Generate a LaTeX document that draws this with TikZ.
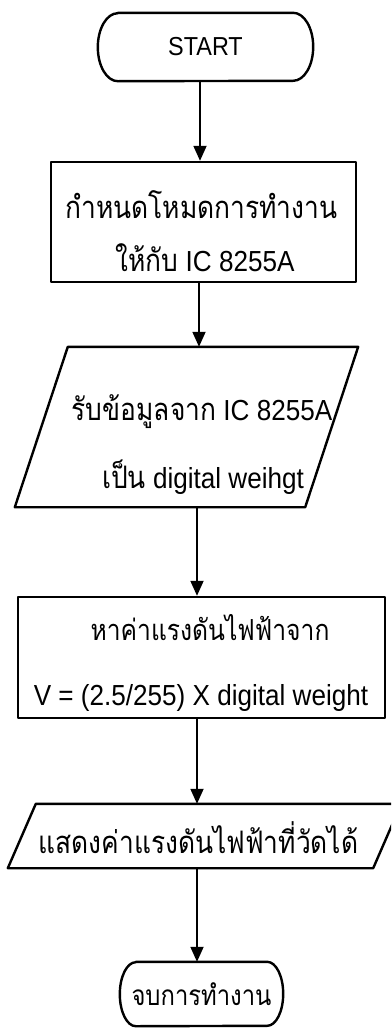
\documentclass[tikz,border=0pt]{standalone}
\usepackage{fontspec}
\setmainfont{Liberation Sans}[FakeStretch=0.9]
\newfontfamily\thai[Script=Thai,FakeStretch=0.85]{Loma}
\newcommand{\thw}[1]{{\fontsize{31}{31}\selectfont\thai #1}}
\usetikzlibrary{arrows.meta}
\tikzset{
  shapeline/.style={line width=2.4pt, line join=round},
  procbox/.style={shapeline, draw, rectangle, inner sep=0pt},
  hold/.style={rectangle, inner sep=0pt},
  txt/.style={align=center, inner sep=0pt, font=\fontsize{29}{29}\selectfont},
  thtxt/.style={align=center, inner sep=0pt, font=\fontsize{31}{31}\selectfont\thai},
  arr/.style={line width=1.8pt, -{Triangle[width=13pt,length=15pt]}},
}
\begin{document}
\begin{tikzpicture}[x=1pt,y=-1pt]
\useasboundingbox (0,0) rectangle (391,1028);
\clip (0,0) rectangle (391,1028);
% START
\node[hold, minimum width=215pt, minimum height=68pt,
      font=\fontsize{26}{26}\selectfont] (s) at (205.5,47) {START};
\draw[shapeline] ([xshift=20pt]s.north west) -- ([xshift=-20pt]s.north east)
  arc[start angle=90, end angle=-90, x radius=20pt, y radius=34pt]
  -- ([xshift=20pt]s.south west)
  arc[start angle=270, end angle=90, x radius=20pt, y radius=34pt] -- cycle;
% box 1
\node[procbox, minimum width=305pt, minimum height=120pt] (b1) at (203.5,222) {};
\node[thtxt] (b1a) at (201.5,205) {กำหนดโหมดการทำงาน};
\node[txt] (b1b) at (205,258) {\thw{ให้กับ} IC 8255A};
% parallelogram 1
\node[hold, minimum width=290pt, minimum height=160pt] (p1) at (186.5,427) {};
\draw[shapeline] ([xshift=26.5pt]p1.north west) -- ([xshift=26.5pt]p1.north east)
  -- ([xshift=-26.5pt]p1.south east) -- ([xshift=-26.5pt]p1.south west) -- cycle;
\node[txt] (p1a) at (202,412) {\thw{รับข้อมูลจาก} IC 8255A};
\node[txt] (p1b) at (203,477) {\thw{เป็น} digital weihgt};
% box 2
\node[procbox, minimum width=367pt, minimum height=121pt] (b2) at (201.5,657.5) {};
\node[thtxt, font=\fontsize{29}{29}\selectfont\thai] (b2a) at (210,628) {หาค่าแรงดันไฟฟ้าจาก};
\node[txt] (b2b) at (201,698) {V = (2.5/255) X digital weight};
% parallelogram 2
\node[hold, minimum width=365pt, minimum height=64pt] (p2) at (204.5,836) {};
\draw[shapeline] ([xshift=14pt]p2.north west) -- ([xshift=14pt]p2.north east)
  -- ([xshift=-14pt]p2.south east) -- ([xshift=-14pt]p2.south west) -- cycle;
\node[thtxt] (p2a) at (198.5,838) {แสดงค่าแรงดันไฟฟ้าที่วัดได้};
% END
\node[hold, minimum width=163pt, minimum height=64pt,
      font=\fontsize{28}{28}\selectfont\thai] (e) at (201.5,994) {จบการทำงาน};
\draw[shapeline] ([xshift=16pt]e.north west) -- ([xshift=-16pt]e.north east)
  arc[start angle=90, end angle=-90, x radius=16pt, y radius=32pt]
  -- ([xshift=16pt]e.south west)
  arc[start angle=270, end angle=90, x radius=16pt, y radius=32pt] -- cycle;
% connectors
\coordinate (x1) at (200,0);
\coordinate (x2) at (199,0);
\coordinate (x3) at (197,0);
\draw[arr] (x1 |- s.south) -- (x1 |- b1.north);
\draw[arr] (x2 |- b1.south) -- (x2 |- p1.north);
\draw[arr] (x3 |- p1.south) -- (x3 |- b2.north);
\draw[arr] (x3 |- b2.south) -- (x3 |- p2.north);
\draw[arr] (x3 |- p2.south) -- (x3 |- e.north);
\end{tikzpicture}
\end{document}
